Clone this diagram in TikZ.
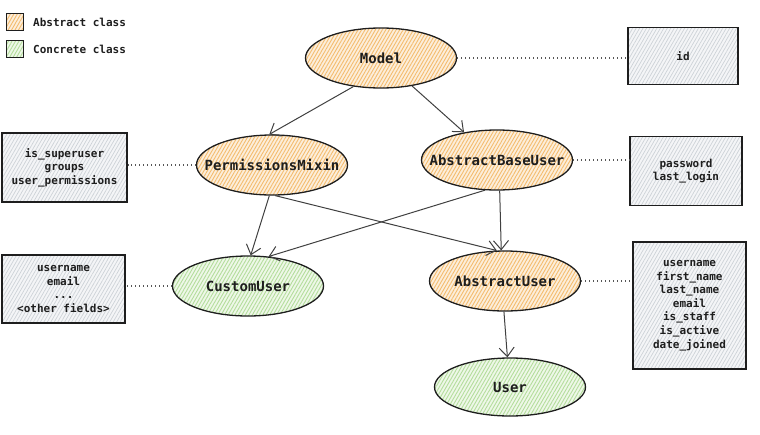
\documentclass[tikz,border=0pt]{standalone}
\usepackage{fontspec}
\setmonofont{DejaVu Sans Mono}
\usetikzlibrary{shapes.geometric,arrows.meta,patterns.meta}
\definecolor{ink}{HTML}{1E1E1E}
\definecolor{orh}{HTML}{F4BC6E}
\definecolor{orbg}{HTML}{FCEEDB}
\definecolor{grh}{HTML}{B4DD9C}
\definecolor{grbg}{HTML}{EEF8E8}
\definecolor{gyh}{HTML}{CDD2D7}
\definecolor{gybg}{HTML}{F4F5F7}
\newcommand\ctr[1]{\makebox[0pt]{#1}}
\tikzset{
  clsbase/.style={ellipse, draw=ink, line width=1.3pt, minimum width=151pt, minimum height=60pt,
    inner sep=0pt, text=ink, font=\ttfamily\bfseries\fontsize{14}{16}\selectfont},
  abstractcls/.style={clsbase, preaction={fill=orbg},
    pattern={Lines[angle=60,distance=3pt,line width=0.9pt]}, pattern color=orh},
  concretecls/.style={clsbase, preaction={fill=grbg},
    pattern={Lines[angle=60,distance=3pt,line width=0.9pt]}, pattern color=grh},
  fieldbox/.style={rectangle, draw=ink, line width=1.3pt, inner sep=0pt, align=center, text=ink,
    preaction={fill=gybg}, pattern={Lines[angle=60,distance=3pt,line width=0.7pt]}, pattern color=gyh,
    font=\ttfamily\bfseries\fontsize{11}{13.6}\selectfont},
  legsq/.style={rectangle, draw=ink, line width=1.3pt, minimum size=17pt, inner sep=0pt},
  legtext/.style={anchor=west, inner sep=0pt, text=ink, font=\ttfamily\bfseries\fontsize{11}{13}\selectfont},
  arr/.style={draw=ink!85, line width=1pt, -{Straight Barb[length=9pt,width=15pt,line width=1pt]}},
  dotlink/.style={draw=ink!75, line width=1.1pt, dash pattern=on 1pt off 3pt}
}
\begin{document}
\begin{tikzpicture}[x=1pt,y=-1pt]
\useasboundingbox (0,0) rectangle (760,434);

% legend
\node[legsq, preaction={fill=orbg}, pattern={Lines[angle=60,distance=3pt,line width=0.9pt]}, pattern color=orh] (lgabs) at (15,22) {};
\node[legtext] (lgabst) at (33,22) {Abstract class};
\node[legsq, preaction={fill=grbg}, pattern={Lines[angle=60,distance=3pt,line width=0.9pt]}, pattern color=grh] (lgcon) at (15,49) {};
\node[legtext] (lgcont) at (33,49) {Concrete class};

% classes
\node[abstractcls] (model) at (381,58) {\ctr{Model}};
\node[abstractcls] (pm) at (272,165) {\ctr{PermissionsMixin}};
\node[abstractcls] (abu) at (497,160) {\ctr{AbstractBaseUser}};
\node[concretecls] (cu) at (248,286) {\ctr{CustomUser}};
\node[abstractcls] (au) at (505,281) {\ctr{AbstractUser}};
\node[concretecls, minimum height=58pt] (user) at (510,387) {\ctr{User}};

% field boxes
\node[fieldbox, minimum width=110pt, minimum height=57pt] (idbox) at (683,56) {id};
\node[fieldbox, minimum width=112pt, minimum height=69pt] (pwdbox) at (686,171) {password\\last\_login};
\node[fieldbox, minimum width=125pt, minimum height=69pt] (permbox) at (64.5,167.5) {is\_superuser\\groups\\user\_permissions};
\node[fieldbox, minimum width=123pt, minimum height=68pt] (cubox) at (63.5,289) {username\\email\\...\\<other fields>};
\node[fieldbox, minimum width=113pt, minimum height=127pt] (aubox) at (689.5,305.5) {username\\first\_name\\last\_name\\email\\is\_staff\\is\_active\\date\_joined};

% dotted links
\draw[dotlink] (model.east) -- (model.east -| idbox.west);
\draw[dotlink] (pm.west) -- (pm.west -| permbox.east);
\draw[dotlink] (abu.east) -- (abu.east -| pwdbox.west);
\draw[dotlink] (cu.west) -- (cu.west -| cubox.east);
\draw[dotlink] (au.east) -- (au.east -| aubox.west);

% inheritance arrows
\draw[arr] (model.226) -- (pm.95);
\draw[arr] (model.318) -- (abu.140);
\draw[arr] (pm.265) -- (cu.85);
\draw[arr] (pm.276) -- (au.105);
\draw[arr] (abu.248) -- (cu.55);
\draw[arr] (abu.275) -- (au.97);
\draw[arr] (au.268) -- (user.95);
\end{tikzpicture}
\end{document}
